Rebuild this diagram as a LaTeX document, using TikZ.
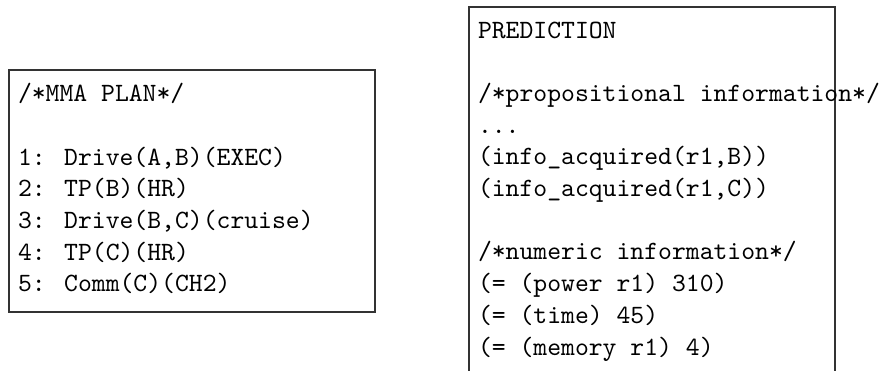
\documentclass[tikz,border=0pt]{standalone}
\begin{document}
% units: 1 unit = 1/2.64 pt, y grows downward
\begin{tikzpicture}[x=0.3788pt, y=-0.3788pt,
  frame/.style={draw=black!80, line width=0.4pt, inner sep=0pt, outer sep=0pt, rectangle},
  codeline/.style={anchor=base west, inner sep=0pt, outer sep=0pt, font=\ttfamily\fontsize{10pt}{12pt}\selectfont}]
\useasboundingbox (0,0) rectangle (880,371);

% plan box
\node[frame, minimum width=366*0.3788pt, minimum height=242*0.3788pt] (planbox) at (192,191) {};
\node[codeline] (p0) at (18,101.6) {/*MMA PLAN*/};
\node[codeline] (p1) at (18,165.0) {1: Drive(A,B)(EXEC)};
\node[codeline] (p2) at (18,196.7) {2: TP(B)(HR)};
\node[codeline] (p3) at (18,228.4) {3: Drive(B,C)(cruise)};
\node[codeline] (p4) at (18,260.1) {4: TP(C)(HR)};
\node[codeline] (p5) at (18,291.8) {5: Comm(C)(CH2)};

% prediction box (runs past the lower edge)
\node[frame, minimum width=366*0.3788pt, minimum height=370*0.3788pt] (predbox) at (652,192) {};
\node[codeline] (q0) at (478,38.0) {PREDICTION};
\node[codeline] (q2) at (478,101.4) {/*propositional information*/};
\node[codeline] (q3) at (478,133.1) {...};
\node[codeline] (q4) at (478,164.8) {(info\_acquired(r1,B))};
\node[codeline] (q5) at (478,196.5) {(info\_acquired(r1,C))};
\node[codeline] (q7) at (478,259.9) {/*numeric information*/};
\node[codeline] (q8) at (478,291.6) {(= (power r1) 310)};
\node[codeline] (q9) at (478,323.3) {(= (time) 45)};
\node[codeline] (q10) at (478,355.0) {(= (memory r1) 4)};
\end{tikzpicture}
\end{document}
